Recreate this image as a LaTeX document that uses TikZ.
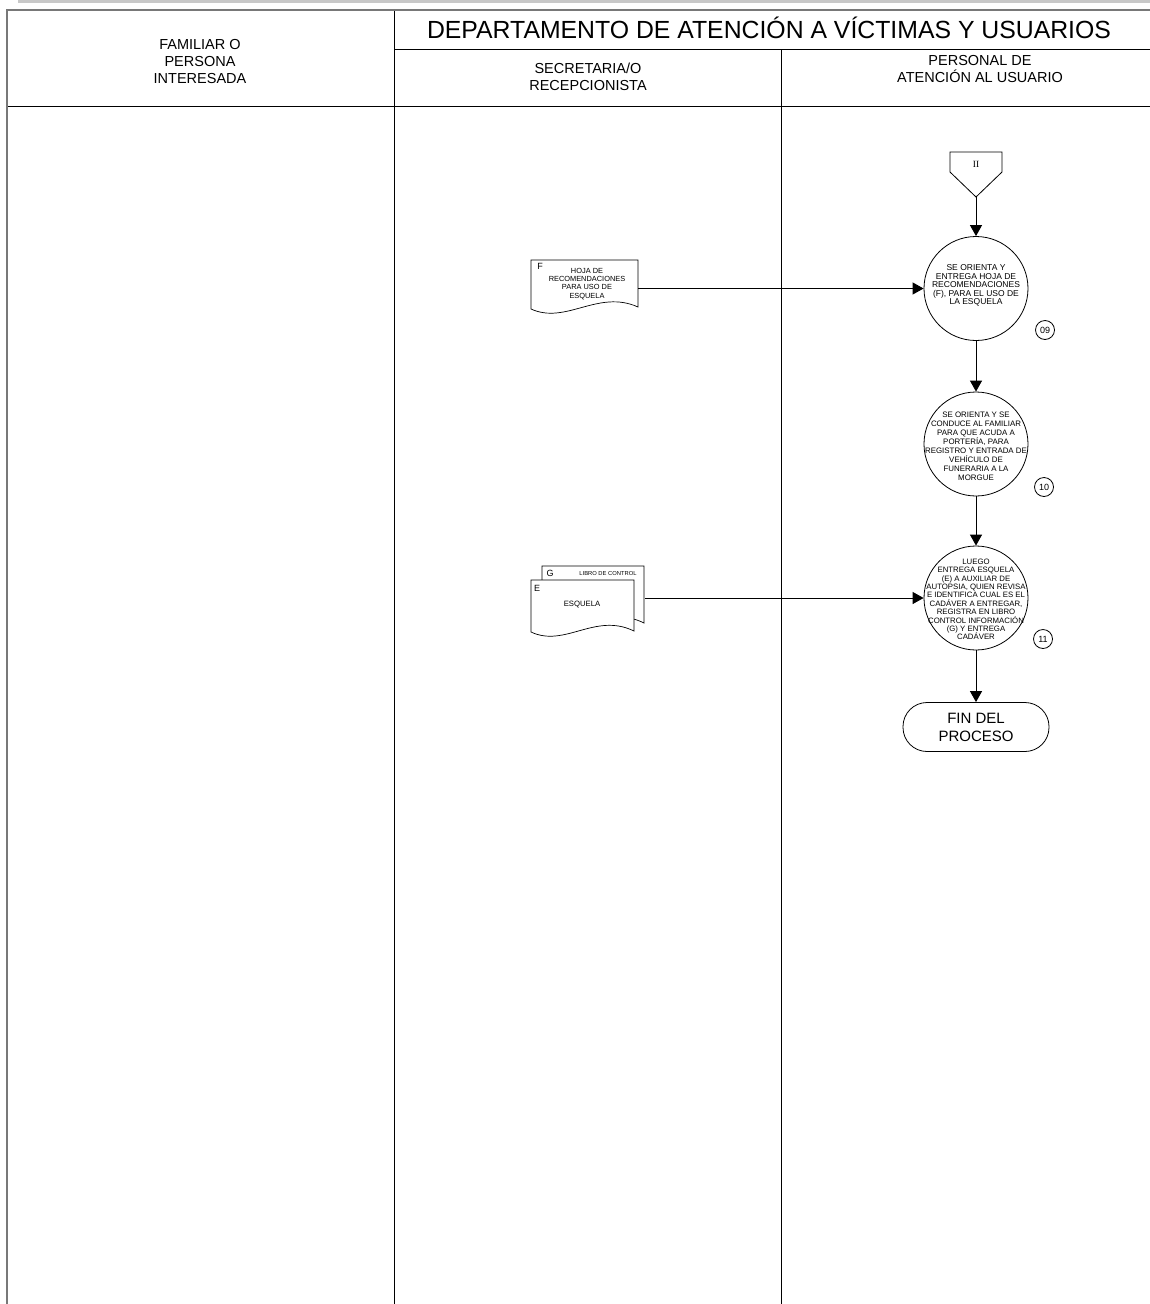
\documentclass[tikz,border=0pt]{standalone}
\usepackage{fontspec}
\setmainfont{Liberation Sans}
\newfontfamily\serifII{Liberation Serif}
\usetikzlibrary{arrows.meta}
\definecolor{framegray}{RGB}{120,120,120}
\definecolor{topgray}{RGB}{200,200,200}
\begin{document}
\begin{tikzpicture}[x=1pt,y=-1pt,
  arr/.style={line width=1pt, -{Triangle[length=11pt,width=12pt]}},
  proc/.style={draw, circle, minimum size=104pt, inner sep=0pt, line width=0.8pt},
  proctext/.style={align=center, inner sep=0pt, font=\fontsize{7.9}{9}\selectfont},
  numc/.style={draw, circle, minimum size=19pt, inner sep=0pt, line width=0.8pt, font=\fontsize{9}{10}\selectfont},
  lanelabel/.style={align=center, inner sep=0pt, font=\fontsize{14.5}{17}\selectfont},
  doctext/.style={align=center, inner sep=0pt, font=\fontsize{7.4}{8.2}\selectfont},
  docshape/.style={draw, fill=white, line width=0.7pt},
  term/.style={draw, rounded corners=24pt, minimum width=146pt, minimum height=49pt, align=center, line width=0.8pt, font=\fontsize{15}{18}\selectfont},
  ghost/.style={inner sep=0pt, outer sep=0pt}
]
\useasboundingbox (0,0) rectangle (1150,1304);

% frame
\draw[line width=3pt, topgray] (18,1.5) -- (1150,1.5);
\draw[line width=1.6pt, framegray] (6,10) -- (1150,10);
\draw[line width=2.4pt, framegray] (7,9.2) -- (7,1304);
\draw[line width=1pt] (8,106) -- (1150,106);
\draw[line width=1pt] (394,49) -- (1150,49);
\draw[line width=1pt] (394,10.8) -- (394,1304);
\draw[line width=1pt] (781,49) -- (781,1304);

% header texts
\node[inner sep=0pt, font=\fontsize{24.8}{28}\selectfont] (title) at (769,28) {DEPARTAMENTO DE ATENCIÓN A VÍCTIMAS Y USUARIOS};
\node[lanelabel] (famlbl) at (200,62) {FAMILIAR O\\PERSONA\\INTERESADA};
\node[lanelabel] (seclbl) at (588,77) {SECRETARIA/O\\RECEPCIONISTA};
\node[lanelabel] (perlbl) at (980,69) {PERSONAL DE\\ATENCIÓN AL USUARIO};

% off-page connector
\draw[line width=0.8pt] (950,152) -- (1002,152) -- (1002,172) -- (976,197) -- (950,172) -- cycle;
\node[inner sep=0pt, font=\serifII\fontsize{9.5}{10}\selectfont] (offp) at (976,164) {II};
\coordinate (offptip) at (976,197);

% processes
\node[proc] (p9) at (976,288.5) {};
\node[proctext, font=\fontsize{8.5}{8.6}\selectfont] (t9) at (976,285.5) {SE ORIENTA Y\\ENTREGA HOJA DE\\RECOMENDACIONES\\(F), PARA EL USO DE\\LA ESQUELA};
\node[numc] (n9) at (1045,330) {09};

\node[proc] (p10) at (976,444) {};
\node[proctext] (t10) at (976,446.5) {SE ORIENTA Y SE\\CONDUCE AL FAMILIAR\\PARA QUE ACUDA A\\PORTERÍA, PARA\\REGISTRO Y ENTRADA DE\\VEHÍCULO DE\\FUNERARIA A LA\\MORGUE};
\node[numc] (n10) at (1044,487) {10};

\node[proc] (p11) at (976,598) {};
\node[proctext, font=\fontsize{7.8}{8.4}\selectfont] (t11) at (976,599.5) {LUEGO\\ENTREGA ESQUELA\\(E) A AUXILIAR DE\\AUTOPSIA, QUIEN REVISA\\E IDENTIFICA CUAL ES EL\\CADÁVER A ENTREGAR,\\REGISTRA EN LIBRO\\CONTROL INFORMACIÓN\\(G) Y ENTREGA\\CADÁVER};
\node[numc] (n11) at (1043,639) {11};

\node[term] (fin) at (976,727) {FIN DEL\\PROCESO};

% document F
\draw[docshape] (531,260) -- (638,260) -- (638,307)
  .. controls (598,289) and (566,325) .. (531,309) -- cycle;
\node[ghost, minimum width=107pt, minimum height=57pt] (docF) at (584.5,288.5) {};
\node[inner sep=0pt, font=\fontsize{9}{10}\selectfont] (lblF) at (540,266) {F};
\node[doctext] (txtF) at (587,284) {HOJA DE\\RECOMENDACIONES\\PARA USO DE\\ESQUELA};

% documents G and E
\draw[docshape] (542,566) -- (644,566) -- (644,623)
  .. controls (606,604) and (578,640) .. (542,624) -- cycle;
\node[inner sep=0pt, font=\fontsize{9}{10}\selectfont] (lblG) at (550,573) {G};
\node[inner sep=0pt, font=\fontsize{5.8}{6}\selectfont] (txtG) at (608,573.5) {LIBRO DE CONTROL};
\draw[docshape] (531,580) -- (634,580) -- (634,631)
  .. controls (595,612) and (565,648) .. (531,632) -- cycle;
\node[inner sep=0pt, font=\fontsize{9}{10}\selectfont] (lblE) at (537,588) {E};
\node[inner sep=0pt, font=\fontsize{7.7}{8}\selectfont] (txtE) at (582,605) {ESQUELA};
\node[ghost, minimum width=114pt, minimum height=70pt] (docGE) at (588,598) {};

% connectors
\draw[arr] (offptip) -- (p9.north);
\draw[arr] (p9.south) -- (p10.north);
\draw[arr] (p10.south) -- (p11.north);
\draw[arr] (p11.south) -- (fin.north);
\draw[arr] (docF.east) -- (p9.west);
\draw[arr] (docGE.east) -- (p11.west);
\end{tikzpicture}
\end{document}
